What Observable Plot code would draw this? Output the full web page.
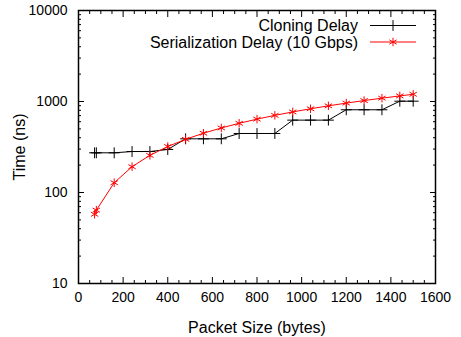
<!DOCTYPE html>
<html>
<head>
<meta charset="utf-8">
<script src="https://cdn.jsdelivr.net/npm/d3@7"></script>
<script src="https://cdn.jsdelivr.net/npm/@observablehq/plot@0.6"></script>
<style>
  html, body { margin: 0; padding: 0; background: #fff; }
  #chart svg { display: block; }
</style>
</head>
<body>
<div id="chart"></div>
<script>
// Data
const packetSizes = [72, 80, 160, 240, 320, 400, 480, 560, 640, 720, 800, 880, 960, 1040, 1120, 1200, 1280, 1360, 1440, 1500];
const cloningDelay = [273, 273, 273, 282, 282, 297, 389, 389, 389, 445, 445, 445, 624, 624, 624, 811, 811, 811, 1008, 1008];
const serializationDelay = [57.6, 64, 128, 192, 256, 320, 384, 448, 512, 576, 640, 704, 768, 832, 896, 960, 1024, 1088, 1152, 1200];
const seriesNames = ["Cloning Delay", "Serialization Delay (10 Gbps)"];
const seriesColors = ["#000000", "#ff0000"];
const seriesSymbols = ["plus", "asterisk"];

const xMajor = [0, 200, 400, 600, 800, 1000, 1200, 1400, 1600];
const xMinor = d3.range(0, 1601, 50).filter(v => v % 200 !== 0);
const yMajor = [10, 100, 1000, 10000];
const yMinor = [10, 100, 1000].flatMap(d => [2,3,4,5,6,7,8,9].map(k => k * d));

const cloning = packetSizes.map((x, i) => ({x, y: cloningDelay[i]}));
const serial = packetSizes.map((x, i) => ({x, y: serializationDelay[i]}));

const font = "'Liberation Sans', Arial, Helvetica, sans-serif";

function legendMark(index, scales, values, dims) {
  const g = d3.create("svg:g");
  const right = dims.width - dims.marginRight;
  const top = dims.marginTop;
  seriesNames.forEach((name, i) => {
    const y = top + 15.5 + i * 16.5;
    g.append("text")
      .attr("x", right - 77).attr("y", y)
      .attr("dy", "0.35em")
      .attr("text-anchor", "end")
      .attr("font-family", font).attr("font-size", 16)
      .attr("fill", "#000")
      .text(name);
    g.append("line")
      .attr("x1", right - 65).attr("x2", right - 19)
      .attr("y1", y).attr("y2", y)
      .attr("stroke", seriesColors[i]).attr("stroke-width", 1);
    const sym = d3.symbol(i === 0 ? d3.symbolPlus : d3.symbolAsterisk, i === 0 ? 40 : 50)();
    g.append("path")
      .attr("transform", `translate(${right - 42},${y})`)
      .attr("d", sym)
      .attr("fill", "none")
      .attr("stroke", seriesColors[i]).attr("stroke-width", 1);
  });
  return g.node();
}

const plot = Plot.plot({
  width: 461,
  height: 337,
  marginLeft: 78,
  marginRight: 26,
  marginTop: 10,
  marginBottom: 54,
  style: { fontFamily: font, fontSize: "14px", background: "#fff", color: "#000" },
  x: { domain: [0, 1600] },
  y: { type: "log", domain: [10, 10000] },
  marks: [
    // inward ticks on all four sides
    Plot.axisX(xMajor, { anchor: "bottom", tickSize: -6, text: null, label: null }),
    Plot.axisX(xMinor, { anchor: "bottom", tickSize: -3, text: null, label: null }),
    Plot.axisX(xMajor, { anchor: "top", tickSize: -6, text: null, label: null }),
    Plot.axisX(xMinor, { anchor: "top", tickSize: -3, text: null, label: null }),
    Plot.axisY(yMajor, { anchor: "left", tickSize: -6, text: null, label: null }),
    Plot.axisY(yMinor, { anchor: "left", tickSize: -3, text: null, label: null }),
    Plot.axisY(yMajor, { anchor: "right", tickSize: -6, text: null, label: null }),
    Plot.axisY(yMinor, { anchor: "right", tickSize: -3, text: null, label: null }),
    // tick labels
    Plot.axisX(xMajor, { anchor: "bottom", tickSize: 0, tickPadding: 9, tickFormat: d => String(d), label: null, fontSize: 14 }),
    Plot.axisY(yMajor, { anchor: "left", tickSize: 0, tickPadding: 11, tickFormat: d => String(d), label: null, fontSize: 14 }),
    // axis titles
    Plot.axisX([], { anchor: "bottom", tickSize: 0, text: null,
      label: "Packet Size (bytes)", labelAnchor: "center", labelArrow: "none", labelOffset: 49, fontSize: 16 }),
    Plot.axisY([], { anchor: "left", tickSize: 0, text: null,
      label: "Time (ns)", labelAnchor: "center", labelArrow: "none", labelOffset: 65, fontSize: 16 }),
    Plot.frame({ stroke: "#000", strokeWidth: 1.5 }),
    Plot.line(cloning, { x: "x", y: "y", stroke: seriesColors[0], strokeWidth: 1 }),
    Plot.dot(cloning, { x: "x", y: "y", symbol: seriesSymbols[0], stroke: seriesColors[0], r: 3.6, strokeWidth: 1 }),
    Plot.line(serial, { x: "x", y: "y", stroke: seriesColors[1], strokeWidth: 1 }),
    Plot.dot(serial, { x: "x", y: "y", symbol: seriesSymbols[1], stroke: seriesColors[1], r: 4, strokeWidth: 1 }),
    legendMark
  ]
});
document.getElementById("chart").appendChild(plot);
</script>
</body>
</html>
